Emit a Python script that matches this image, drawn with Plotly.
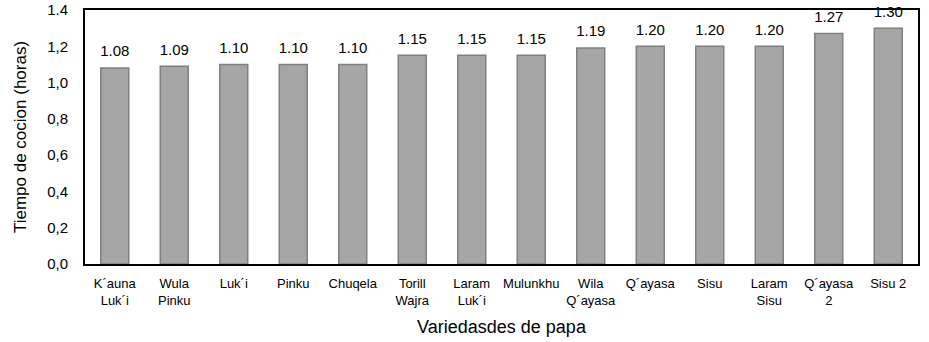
import plotly.graph_objects as go

categories = ["K´auna<br>Luk´i", "Wula<br>Pinku", "Luk´i", "Pinku", "Chuqela",
              "Torill<br>Wajra", "Laram<br>Luk´i", "Mulunkhu", "Wila<br>Q´ayasa",
              "Q´ayasa", "Sisu", "Laram<br>Sisu", "Q´ayasa<br>2", "Sisu 2"]
values = [1.08, 1.09, 1.10, 1.10, 1.10, 1.15, 1.15, 1.15, 1.19, 1.20, 1.20, 1.20, 1.27, 1.30]
labels = [f"{v:.2f}" for v in values]
y_ticks = [0.0, 0.2, 0.4, 0.6, 0.8, 1.0, 1.2, 1.4]
y_ticktext = ["0,0", "0,2", "0,4", "0,6", "0,8", "1,0", "1,2", "1.4"]

fig = go.Figure()
fig.add_trace(go.Bar(
    x=categories, y=values,
    marker=dict(color="#a6a6a6", line=dict(color="#7f7f7f", width=1.5)),
    width=0.47,
))
fig.add_trace(go.Scatter(
    x=categories, y=values, mode="markers+text", text=labels, textposition="top center",
    marker=dict(size=11, opacity=0), cliponaxis=False,
    textfont=dict(size=15, color="black", family="Liberation Sans, Arial"),
    hoverinfo="skip",
))
fig.update_layout(
    width=929, height=342, margin=dict(l=85, r=11, t=10, b=78),
    plot_bgcolor="white", paper_bgcolor="white",
    font=dict(family="Liberation Sans, Arial", size=13, color="black"),
    showlegend=False,
    xaxis=dict(range=[-0.5, 13.5], showline=True, mirror=True, linecolor="black", linewidth=2,
               tickfont=dict(size=13), ticks="", ticklabelstandoff=6, automargin=False,
               title=dict(text="Variedasdes de papa", font=dict(size=18), standoff=14)),
    yaxis=dict(range=[0, 1.4], tickvals=y_ticks, ticktext=y_ticktext, showgrid=False,
               showline=True, mirror=True, linecolor="black", linewidth=2, automargin=False,
               tickfont=dict(size=15), ticks="", ticklabelstandoff=12,
               title=dict(text="Tiempo de cocion (horas)", font=dict(size=17), standoff=16)),
)
fig.write_html("out.html")
